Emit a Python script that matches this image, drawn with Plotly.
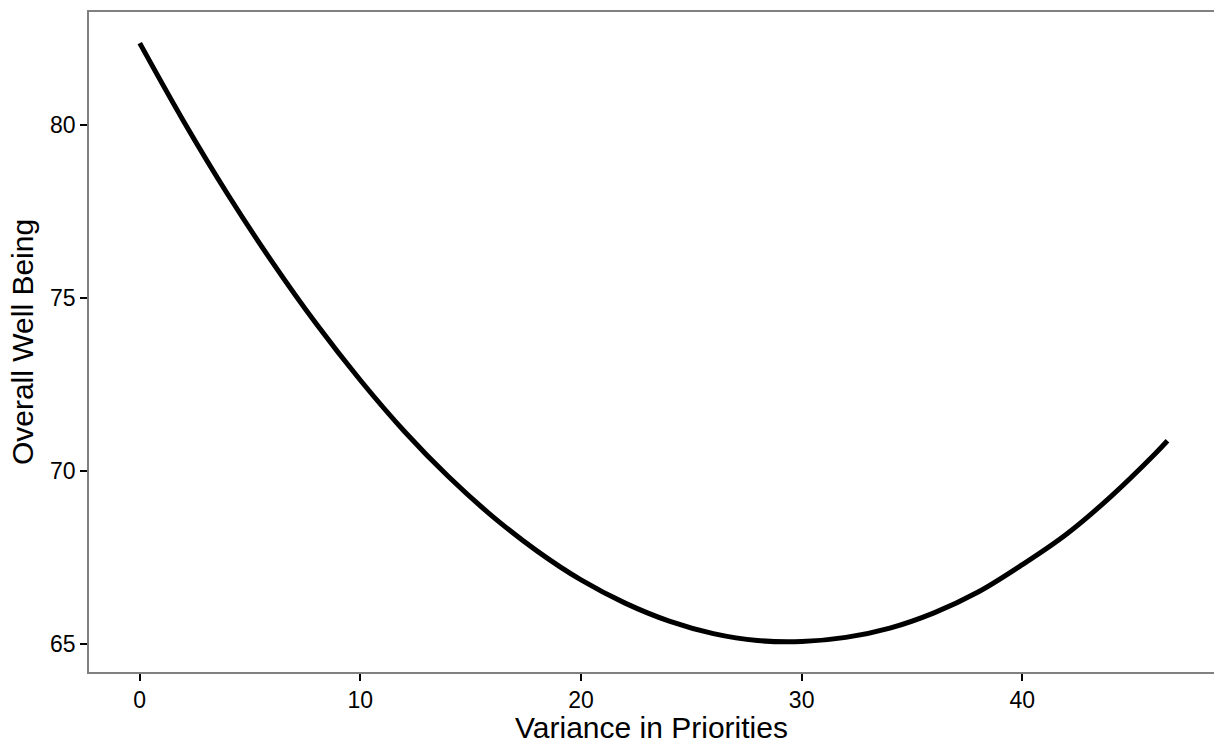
import plotly.graph_objects as go

# Values
variance = [0, 2, 4, 6, 8, 10, 12, 14, 16, 18, 20, 22, 24, 26, 28, 30,
            32, 34, 36, 38, 40, 42, 44, 46, 46.58]
well_being = [82.37, 80.10, 77.99, 76.05, 74.26, 72.63, 71.15, 69.84, 68.69,
              67.70, 66.86, 66.19, 65.67, 65.31, 65.11, 65.08, 65.20, 65.47,
              65.91, 66.51, 67.30, 68.18, 69.26, 70.49, 70.88]
x_ticks = [0, 10, 20, 30, 40]
y_ticks = [65, 70, 75, 80]

FONT = "Liberation Sans, Arial, Helvetica, sans-serif"

fig = go.Figure()
fig.add_trace(go.Scatter(
    x=variance, y=well_being, mode="lines",
    line=dict(color="black", width=5, shape="spline"),
    hoverinfo="skip", showlegend=False,
))

fig.update_layout(
    width=1214, height=744,
    margin=dict(l=89, r=0, t=12, b=72, pad=0),
    paper_bgcolor="white", plot_bgcolor="white",
    font=dict(family=FONT, color="black"),
    showlegend=False,
)
fig.update_xaxes(
    range=[-2.30, 48.69], tickvals=x_ticks, ticktext=[str(v) for v in x_ticks],
    showgrid=False, zeroline=False,
    showline=True, linecolor="#808080", linewidth=1.5, mirror=True,
    ticks="outside", ticklen=7, tickwidth=1.8, tickcolor="black",
    tickfont=dict(size=23, color="black", family=FONT),
    title=dict(text="Variance in Priorities", font=dict(size=30, color="black", family=FONT), standoff=5),
)
fig.update_yaxes(
    range=[64.20, 83.27], tickvals=y_ticks, ticktext=[str(v) for v in y_ticks],
    showgrid=False, zeroline=False,
    showline=True, linecolor="#808080", linewidth=1.5, mirror=False,
    ticks="outside", ticklen=7, tickwidth=1.8, tickcolor="black",
    tickfont=dict(size=23, color="black", family=FONT),
    title=dict(text="Overall Well Being", font=dict(size=30, color="black", family=FONT), standoff=8),
)

fig.write_html("out.html")
